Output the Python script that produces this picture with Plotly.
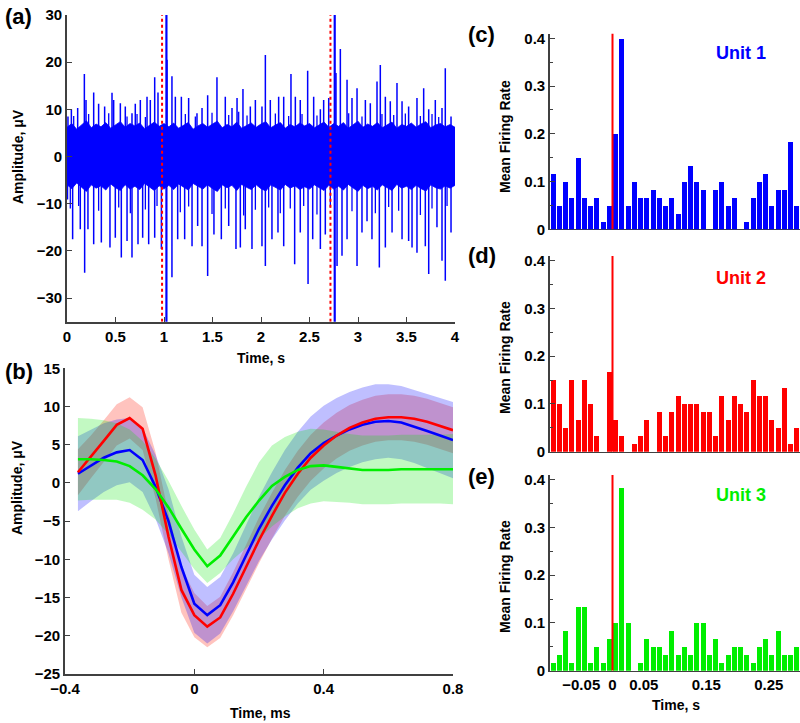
import plotly.graph_objects as go

# ---------------- Panel (a): raw trace ----------------
# noise band envelope, sampled every 0.05 s from 0 to 4 s
band_t = [0.00, 0.05, 0.10, 0.15, 0.20, 0.25, 0.30, 0.35, 0.40, 0.45, 0.50, 0.55, 0.60, 0.65, 0.70, 0.75,
          0.80, 0.85, 0.90, 0.95, 1.00, 1.05, 1.10, 1.15, 1.20, 1.25, 1.30, 1.35, 1.40, 1.45, 1.50, 1.55,
          1.60, 1.65, 1.70, 1.75, 1.80, 1.85, 1.90, 1.95, 2.00, 2.05, 2.10, 2.15, 2.20, 2.25, 2.30, 2.35,
          2.40, 2.45, 2.50, 2.55, 2.60, 2.65, 2.70, 2.75, 2.80, 2.85, 2.90, 2.95, 3.00, 3.05, 3.10, 3.15,
          3.20, 3.25, 3.30, 3.35, 3.40, 3.45, 3.50, 3.55, 3.60, 3.65, 3.70, 3.75, 3.80, 3.85, 3.90, 3.95, 4.00]
band_upper = [6.2, 7.0, 5.8, 6.6, 7.6, 6.1, 6.9, 6.3, 7.2, 6.0, 6.8, 7.4, 6.2, 7.0, 6.5, 7.1, 5.9, 6.7, 7.3, 6.4,
              7.0, 6.3, 7.1, 6.0, 6.6, 7.2, 5.8, 6.5, 7.0, 6.2, 6.9, 7.5, 6.1, 6.8, 6.3, 7.3, 6.0, 6.6, 7.1, 6.2,
              6.9, 7.4, 6.1, 6.7, 7.2, 6.0, 6.8, 6.3, 7.1, 6.5, 7.0, 6.1, 6.7, 7.3, 6.2, 7.0, 6.4, 7.2, 6.0, 6.8,
              7.5, 6.2, 6.9, 6.4, 7.2, 6.1, 6.7, 7.3, 6.0, 6.8, 6.4, 7.1, 6.2, 6.9, 7.4, 6.1, 6.7, 7.0, 6.3, 6.8, 6.2]
band_lower = [-6.0, -6.8, -5.6, -6.5, -7.4, -6.0, -6.7, -6.2, -7.1, -5.8, -6.6, -7.2, -6.0, -6.9, -6.3, -7.0,
              -5.7, -6.5, -7.2, -6.2, -6.9, -6.1, -7.0, -5.8, -6.4, -7.1, -5.7, -6.3, -6.9, -6.0, -6.8, -7.4,
              -6.0, -6.6, -6.1, -7.2, -5.9, -6.5, -7.0, -6.0, -6.8, -7.3, -6.0, -6.6, -7.1, -5.9, -6.7, -6.2,
              -7.0, -6.4, -6.9, -6.0, -6.6, -7.2, -6.1, -6.9, -6.3, -7.1, -5.9, -6.7, -7.4, -6.1, -6.8, -6.3,
              -7.1, -6.0, -6.6, -7.2, -5.9, -6.7, -6.3, -7.0, -6.1, -6.8, -7.3, -6.0, -6.6, -6.9, -6.2, -6.7, -6.1]

pos_spike_t = [0.010, 0.045, 0.110, 0.179, 0.196, 0.275, 0.326, 0.388, 0.464, 0.481, 0.550, 0.601, 0.670,
               0.704, 0.756, 0.825, 0.859, 0.904, 0.938, 1.031, 1.082, 1.117, 1.179, 1.254, 1.340, 1.392,
               1.450, 1.546, 1.632, 1.701, 1.753, 1.814, 1.890, 1.942, 2.010, 2.045, 2.096, 2.182, 2.234,
               2.309, 2.354, 2.405, 2.481, 2.543, 2.612, 2.646, 2.698, 2.773, 2.818, 2.887, 2.938, 2.990,
               3.076, 3.127, 3.196, 3.230, 3.282, 3.333, 3.402, 3.454, 3.522, 3.608, 3.677, 3.729, 3.797,
               3.866, 3.900, 3.959]
pos_spike_v = [8.5, 10.0, 10.3, 17.5, 12.0, 13.6, 11.2, 10.6, 13.5, 12.0, 11.3, 10.6, 9.2,
               11.2, 12.0, 12.7, 12.0, 16.8, 13.6, 20.5, 17.0, 12.7, 12.7, 12.4, 9.2, 10.3,
               13.0, 16.8, 12.7, 10.3, 12.4, 14.3, 10.6, 12.0, 10.6, 21.5, 12.0, 12.7, 12.7,
               17.5, 12.7, 12.0, 18.2, 12.7, 10.0, 12.0, 12.4, 17.7, 22.8, 16.3, 12.4, 14.5,
               12.0, 11.3, 15.9, 19.4, 12.7, 11.7, 15.6, 11.7, 10.6, 12.4, 14.5, 10.0, 12.0,
               10.3, 18.7, 8.5]
neg_spike_t = [0.005, 0.058, 0.137, 0.182, 0.216, 0.275, 0.354, 0.443, 0.498, 0.560, 0.619, 0.670, 0.732,
               0.780, 0.842, 0.904, 0.973, 1.082, 1.141, 1.213, 1.289, 1.347, 1.392, 1.450, 1.515, 1.591,
               1.667, 1.742, 1.787, 1.838, 1.907, 2.010, 2.045, 2.113, 2.175, 2.234, 2.347, 2.405, 2.485,
               2.533, 2.612, 2.663, 2.784, 2.835, 2.887, 2.990, 3.041, 3.093, 3.144, 3.220, 3.282, 3.351,
               3.454, 3.522, 3.557, 3.608, 3.694, 3.729, 3.814, 3.866, 3.900, 3.959]
neg_spike_v = [-9.1, -17.5, -15.4, -24.6, -15.4, -18.6, -18.2, -19.3, -17.2, -21.4, -17.9, -21.4, -18.6,
               -17.2, -18.6, -17.2, -19.6, -25.6, -17.5, -17.5, -19.0, -14.7, -19.0, -25.3, -16.5, -17.5,
               -14.7, -19.6, -19.3, -15.4, -19.6, -19.0, -23.2, -17.5, -16.1, -19.0, -22.8, -16.1, -27.0,
               -17.5, -19.6, -16.5, -23.2, -21.0, -17.5, -23.2, -16.1, -13.7, -17.5, -23.5, -19.3, -16.1,
               -17.5, -17.9, -19.3, -20.4, -19.0, -24.9, -15.0, -22.1, -26.3, -16.1]
# smaller excursions just outside the noise band
minor_pos_t = [0.069, 0.223, 0.430, 0.619, 0.722, 0.808, 1.220, 1.323, 1.495, 1.667, 1.770, 1.856, 2.148,
               2.285, 2.423, 2.577, 2.904, 3.041, 3.247, 3.368, 3.488, 3.643, 3.763, 3.832]
minor_pos_v = [8.6, 9.0, 9.2, 8.5, 9.0, 8.4, 9.0, 8.5, 9.3, 8.8, 9.5, 8.7, 9.1,
               8.6, 9.0, 8.7, 9.2, 8.5, 9.0, 8.8, 9.1, 8.6, 9.0, 8.4]
minor_neg_t = [0.034, 0.120, 0.326, 0.533, 0.653, 0.808, 0.928, 1.168, 1.254, 1.495, 1.632, 1.821, 1.942,
               2.079, 2.199, 2.302, 2.440, 2.577, 2.715, 2.938, 3.179, 3.316, 3.419, 3.643, 3.763, 3.918]
minor_neg_v = [-11.0, -10.5, -11.5, -10.8, -12.0, -11.2, -10.5, -11.8, -10.6, -12.2, -11.0, -12.5, -11.3,
               -10.8, -12.0, -11.0, -10.5, -12.3, -10.8, -11.6, -12.0, -10.7, -11.5, -12.4, -11.0, -10.5]
big_spike_t = [1.025, 2.760]
big_spike_v = [45.0, 45.0]
stim_t = [0.980, 2.716]

# ---------------- Panel (b): mean waveforms ----------------
wave_t = [-0.36, -0.32, -0.28, -0.24, -0.20, -0.16, -0.12, -0.08, -0.04, 0.00, 0.04, 0.08, 0.12, 0.16, 0.20,
          0.24, 0.28, 0.32, 0.36, 0.40, 0.44, 0.48, 0.52, 0.56, 0.60, 0.64, 0.68, 0.72, 0.76, 0.80]
unit1_mean = [1.2, 2.3, 3.3, 4.0, 4.3, 3.0, -0.5, -5.0, -11.0, -15.8, -17.3, -16.0, -13.0, -9.5, -6.0,
              -3.0, -0.3, 2.0, 3.9, 5.2, 6.2, 7.0, 7.6, 8.0, 8.1, 7.9, 7.4, 6.8, 6.2, 5.6]
unit1_sd = [4.9, 4.7, 4.5, 4.3, 4.2, 4.2, 4.2, 4.2, 4.0, 3.8, 3.7, 3.7, 3.8, 4.0, 4.2,
            4.4, 4.6, 4.7, 4.8, 4.9, 4.9, 4.9, 4.9, 4.9, 4.8, 4.8, 4.8, 4.9, 4.9, 5.0]
unit2_mean = [1.4, 3.4, 5.5, 7.6, 8.5, 7.1, 1.0, -7.0, -14.0, -17.3, -18.8, -17.6, -14.5, -11.0, -7.5,
              -4.3, -1.3, 1.2, 3.3, 4.9, 6.2, 7.2, 7.9, 8.4, 8.6, 8.6, 8.4, 8.0, 7.5, 6.9]
unit2_sd = [3.0, 2.8, 2.7, 2.7, 2.7, 2.8, 3.0, 3.0, 3.0, 2.9, 2.7, 2.7, 2.8, 2.9, 3.0,
            3.0, 3.0, 3.0, 3.0, 3.0, 3.0, 3.0, 3.0, 3.0, 3.0, 3.0, 3.0, 3.0, 3.0, 3.0]
unit3_mean = [3.1, 3.1, 3.0, 2.8, 2.2, 1.0, -0.8, -3.2, -6.0, -8.7, -10.9, -9.5, -7.0, -4.5, -2.3,
              -0.4, 0.8, 1.7, 2.2, 2.3, 2.1, 1.9, 1.7, 1.7, 1.7, 1.8, 1.8, 1.8, 1.8, 1.8]
unit3_sd = [5.4, 5.3, 5.2, 5.0, 4.8, 4.5, 4.0, 3.5, 3.0, 2.6, 2.2, 2.3, 3.0, 4.0, 5.0,
            5.3, 5.2, 5.0, 4.9, 4.7, 4.6, 4.5, 4.5, 4.5, 4.5, 4.5, 4.5, 4.5, 4.5, 4.6]

# ---------------- Panels (c)-(e): PSTHs ----------------
bin_centers = [-0.095, -0.085, -0.075, -0.065, -0.055, -0.045, -0.035, -0.025, -0.015, -0.005,
               0.005, 0.015, 0.025, 0.035, 0.045, 0.055, 0.065, 0.075, 0.085, 0.095,
               0.105, 0.115, 0.125, 0.135, 0.145, 0.155, 0.165, 0.175, 0.185, 0.195,
               0.205, 0.215, 0.225, 0.235, 0.245, 0.255, 0.265, 0.275, 0.285, 0.295]
rate_unit1 = [0.117, 0.05, 0.1, 0.067, 0.15, 0.067, 0.05, 0.067, 0.017, 0.05,
              0.2, 0.4, 0.05, 0.1, 0.067, 0.067, 0.083, 0.067, 0.05, 0.067,
              0.033, 0.1, 0.133, 0.1, 0.083, 0.0, 0.083, 0.1, 0.05, 0.067,
              0.0, 0.017, 0.067, 0.1, 0.117, 0.05, 0.083, 0.083, 0.183, 0.05]
rate_unit2 = [0.15, 0.1, 0.05, 0.15, 0.067, 0.15, 0.1, 0.033, 0.0, 0.167,
              0.067, 0.033, 0.0, 0.017, 0.033, 0.067, 0.0, 0.083, 0.033, 0.083,
              0.117, 0.1, 0.1, 0.1, 0.083, 0.083, 0.033, 0.117, 0.067, 0.117,
              0.1, 0.083, 0.15, 0.117, 0.117, 0.067, 0.05, 0.133, 0.017, 0.05]
rate_unit3 = [0.017, 0.033, 0.083, 0.017, 0.133, 0.133, 0.017, 0.05, 0.017, 0.067,
              0.1, 0.383, 0.1, 0.0, 0.017, 0.067, 0.05, 0.05, 0.033, 0.083,
              0.033, 0.05, 0.033, 0.1, 0.1, 0.033, 0.067, 0.017, 0.033, 0.05,
              0.05, 0.033, 0.017, 0.05, 0.067, 0.033, 0.083, 0.033, 0.033, 0.05]
unit_names = ["Unit 1", "Unit 2", "Unit 3"]
hist_ticks = [-0.05, 0, 0.05, 0.15, 0.25]
hist_ticktext = ["\u22120.05", "0", "0.05", "0.15", "0.25"]

BLUE = "#0000ff"
RED = "#ff0000"
GREEN = "#00ee00"
AXC = "#404040"
FONT = "Liberation Sans, Arial, sans-serif"

W, H = 800, 723


def xd(px0, px1):
    return [px0 / W, px1 / W]


def yd(top, bottom):
    return [1 - bottom / H, 1 - top / H]


fig = go.Figure()

# ---- panel (a) traces ----
fig.add_trace(go.Scatter(
    x=band_t + band_t[::-1], y=band_upper + band_lower[::-1],
    fill="toself", fillcolor=BLUE, line=dict(width=0.8, color=BLUE),
    mode="lines", xaxis="x", yaxis="y", hoverinfo="skip", showlegend=False))

mx, my = [], []
for t, v in zip(minor_pos_t + minor_neg_t, minor_pos_v + minor_neg_v):
    mx += [t, t, None]
    my += [0, v, None]
fig.add_trace(go.Scatter(x=mx, y=my, mode="lines", line=dict(color=BLUE, width=1.3),
                         xaxis="x", yaxis="y", showlegend=False))
sx, sy = [], []
for t, v in zip(pos_spike_t + neg_spike_t, pos_spike_v + neg_spike_v):
    sx += [t, t, None]
    sy += [0, v, None]
fig.add_trace(go.Scatter(x=sx, y=sy, mode="lines", line=dict(color=BLUE, width=1.5),
                         xaxis="x", yaxis="y", showlegend=False))
bx, by = [], []
for t, v in zip(big_spike_t, big_spike_v):
    bx += [t, t, None]
    by += [-v, v, None]
fig.add_trace(go.Scatter(x=bx, y=by, mode="lines", line=dict(color=BLUE, width=2.2),
                         xaxis="x", yaxis="y", showlegend=False))
rx, ry = [], []
for t in stim_t:
    rx += [t, t, None]
    ry += [-35, 30, None]
fig.add_trace(go.Scatter(x=rx, y=ry, mode="lines", line=dict(color=RED, width=2, dash="dot"),
                         xaxis="x", yaxis="y", showlegend=False))

# ---- panel (b) traces ----
band_specs = [
    (unit2_mean, unit2_sd, "rgba(255,40,20,0.28)"),
    (unit1_mean, unit1_sd, "rgba(0,0,255,0.25)"),
    (unit3_mean, unit3_sd, "rgba(0,230,0,0.24)"),
]
for m, s, fc in band_specs:
    up = [a + b for a, b in zip(m, s)]
    lo = [a - b for a, b in zip(m, s)]
    fig.add_trace(go.Scatter(x=wave_t + wave_t[::-1], y=up + lo[::-1], fill="toself",
                             fillcolor=fc, line=dict(width=0), mode="lines",
                             xaxis="x2", yaxis="y2", showlegend=False, hoverinfo="skip"))
for m, lc in [(unit1_mean, BLUE), (unit2_mean, RED), (unit3_mean, GREEN)]:
    fig.add_trace(go.Scatter(x=wave_t, y=m, mode="lines", line=dict(color=lc, width=2.6),
                             xaxis="x2", yaxis="y2", showlegend=False))

# ---- panels (c)-(e) ----
rates = [rate_unit1, rate_unit2, rate_unit3]
cols = [BLUE, RED, GREEN]
for i, (r, c) in enumerate(zip(rates, cols)):
    xa = "x%d" % (i + 3)
    ya = "y%d" % (i + 3)
    fig.add_trace(go.Bar(x=bin_centers, y=r, marker=dict(color=c, line=dict(width=0)),
                         width=0.008, xaxis=xa, yaxis=ya, showlegend=False))
    fig.add_trace(go.Scatter(x=[0, 0], y=[0, 0.41], mode="lines", line=dict(color=RED, width=2),
                             xaxis=xa, yaxis=ya, showlegend=False))

tickfont = dict(family=FONT, size=15, color="black", weight="bold")
axis_common = dict(showline=True, linecolor=AXC, linewidth=1.6, ticks="inside",
                   tickcolor=AXC, ticklen=5, tickwidth=1.2, showgrid=False, zeroline=False,
                   tickfont=tickfont, mirror=False, automargin=False)

layout = dict(
    template="none",
    width=W, height=H, margin=dict(l=0, r=0, t=0, b=0, autoexpand=False),
    paper_bgcolor="white", plot_bgcolor="white", bargap=0,
    xaxis=dict(domain=xd(67, 455), range=[0, 4], anchor="y", tickvals=[0, 0.5, 1, 1.5, 2, 2.5, 3, 3.5, 4],
               ticktext=["0", "0.5", "1", "1.5", "2", "2.5", "3", "3.5", "4"], **axis_common),
    yaxis=dict(domain=yd(15, 321.7), range=[-35, 30], anchor="x", tickvals=[-30, -20, -10, 0, 10, 20, 30],
               **axis_common),
    xaxis2=dict(domain=xd(65, 453), range=[-0.4, 0.8], anchor="y2", tickvals=[-0.4, 0, 0.4, 0.8],
                ticktext=["\u22120.4", "0", "0.4", "0.8"], **axis_common),
    yaxis2=dict(domain=yd(368.3, 674), range=[-25, 15], anchor="x2",
                tickvals=[-25, -20, -15, -10, -5, 0, 5, 10, 15], **axis_common),
)
hist_y_tops = [(33.5, 229.3), (255.9, 451.7), (474.9, 670.7)]
for i, (top, bot) in enumerate(hist_y_tops):
    n = i + 3
    xa = dict(domain=xd(550, 800), range=[-0.1, 0.3], anchor="y%d" % n, showline=True,
              linecolor=AXC, linewidth=1.2, showgrid=False, zeroline=False, ticks="",
              layer="below traces", tickfont=tickfont, automargin=False)
    if n == 5:
        xa.update(tickvals=hist_ticks, ticktext=hist_ticktext)
    else:
        xa.update(showticklabels=False)
    layout["xaxis%d" % n] = xa
    layout["yaxis%d" % n] = dict(domain=yd(top, bot), range=[0, 0.41], anchor="x%d" % n,
                                 tickvals=[0, 0.1, 0.2, 0.3, 0.4], ticktext=["0", "0.1", "0.2", "0.3", "0.4"],
                                 minor=dict(dtick=0.05, ticks="inside", ticklen=3, tickcolor=AXC),
                                 **axis_common)

fig.update_layout(**layout)

ann = []


def text(x, y, s, size, color="black", angle=0, xanchor="center"):
    ann.append(dict(x=x / W, y=1 - y / H, xref="paper", yref="paper", text=s, showarrow=False,
                    font=dict(family=FONT, size=size, color=color, weight="bold"),
                    textangle=angle, xanchor=xanchor, yanchor="middle"))


# panel labels
text(3, 16, "(a)", 22, xanchor="left")
text(3, 372, "(b)", 22, xanchor="left")
text(466, 34, "(c)", 22, xanchor="left")
text(466, 255, "(d)", 22, xanchor="left")
text(466, 476, "(e)", 22, xanchor="left")
# axis titles
text(18, 157, "Amplitude, \u03bcV", 14, angle=-90)
text(261, 358, "Time, s", 14)
text(17, 488, "Amplitude, \u03bcV", 14, angle=-90)
text(260, 713, "Time, ms", 14)
text(505, 137, "Mean Firing Rate", 14, angle=-90)
text(505, 358, "Mean Firing Rate", 14, angle=-90)
text(505, 577, "Mean Firing Rate", 14, angle=-90)
text(676, 705, "Time, s", 14)
# unit labels
for name, c, y in zip(unit_names, cols, [53, 278, 495]):
    text(741, y, name, 18, color=c)

fig.update_layout(annotations=ann)
fig.write_html("out.html", config={"displayModeBar": False},
               post_script="document.body.style.margin='0';document.body.style.overflow='hidden';")
